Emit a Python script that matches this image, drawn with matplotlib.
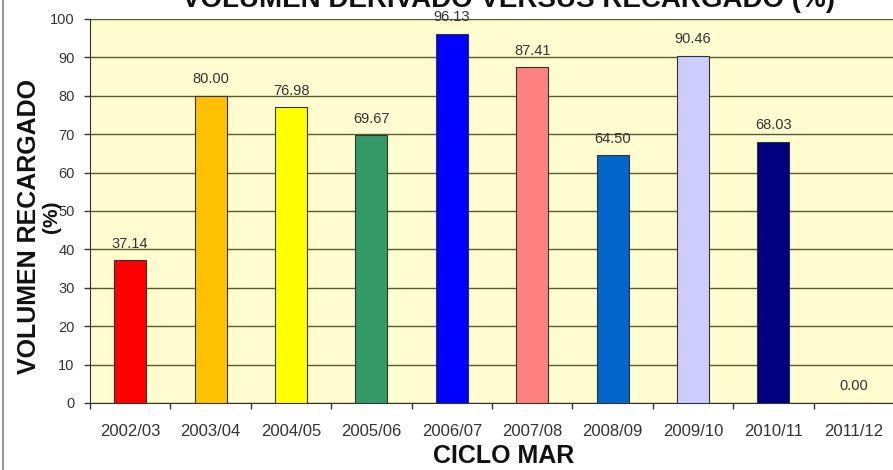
import matplotlib
matplotlib.use("Agg")
import matplotlib.pyplot as plt
from matplotlib.lines import Line2D

cycles = ["2002/03", "2003/04", "2004/05", "2005/06", "2006/07",
          "2007/08", "2008/09", "2009/10", "2010/11", "2011/12"]
recharged = [37.14, 80.00, 76.98, 69.67, 96.13, 87.41, 64.50, 90.46, 68.03, 0.00]
bar_colors = ["#FF0000", "#FFC000", "#FFFF00", "#339966", "#0000FF",
              "#FF8080", "#0066CC", "#CCCCFF", "#000080", "#808080"]
y_ticks = [0, 10, 20, 30, 40, 50, 60, 70, 80, 90, 100]

font = ["Liberation Sans", "DejaVu Sans"]
W, H = 893, 470

fig = plt.figure(figsize=(W / 100, H / 100), dpi=100)
fig.patch.set_facecolor("white")
ax = fig.add_axes([90 / W, 1 - 403 / H, 804 / W, 384 / H])
ax.set_facecolor("#FFFDD0")

x = list(range(len(cycles)))
ax.bar(x, recharged, width=0.40, color=bar_colors,
       edgecolor="#333333", linewidth=0.8, zorder=3)

for xi, v in zip(x, recharged):
    ax.annotate(f"{v:.2f}", (xi, v), xytext=(0, 7), textcoords="offset points",
                ha="center", va="bottom", fontsize=10.5, color="#333333",
                family=font, zorder=4, annotation_clip=False)

ax.set_xlim(-0.5, len(cycles) - 0.5)
ax.set_ylim(0, 100)
ax.set_yticks(y_ticks)
ax.set_yticklabels([str(t) for t in y_ticks], family=font, fontsize=10.5, color="#333333")
ax.set_xticks(x)
ax.set_xticklabels(cycles, family=font, fontsize=12, color="#333333")
ax.tick_params(axis="x", length=0, pad=15)
ax.set_xticks([i + 0.5 for i in range(-1, len(cycles) - 1)], minor=True)
ax.tick_params(axis="x", which="minor", length=4.5, width=1, direction="out", color="#333333")
ax.tick_params(axis="y", length=4, width=1, direction="out", color="#333333", pad=7)

ax.yaxis.grid(True, color="#5a5a2a", linewidth=1.0, zorder=1)
ax.set_axisbelow(True)
for side in ["top", "right"]:
    ax.spines[side].set_visible(False)
ax.spines["left"].set_color("#333333")
ax.spines["bottom"].set_color("#333333")

fig.text(504 / W, 1 - 456 / H, "CICLO MAR", ha="center", va="center",
         fontsize=18, fontweight="bold", family=font, color="#111111")
fig.text(29 / W, 1 - 227 / H, "VOLUMEN RECARGADO", rotation=90, ha="center",
         va="center", fontsize=18, fontweight="bold", family=font, color="#111111")
fig.text(52 / W, 1 - 217 / H, "(%)", rotation=90, ha="center",
         va="center", fontsize=15, fontweight="bold", family=font, color="#111111")
fig.text(509 / W, 1 - 7 / H, "VOLUMEN DERIVADO VERSUS RECARGADO (%)", ha="center",
         va="baseline", fontsize=20, fontweight="bold", family=font, color="#111111")

fig.add_artist(Line2D([2.5 / W, 2.5 / W], [0, 1], transform=fig.transFigure,
                      color="#999999", linewidth=1.5))

fig.savefig("out.png", dpi=100)
